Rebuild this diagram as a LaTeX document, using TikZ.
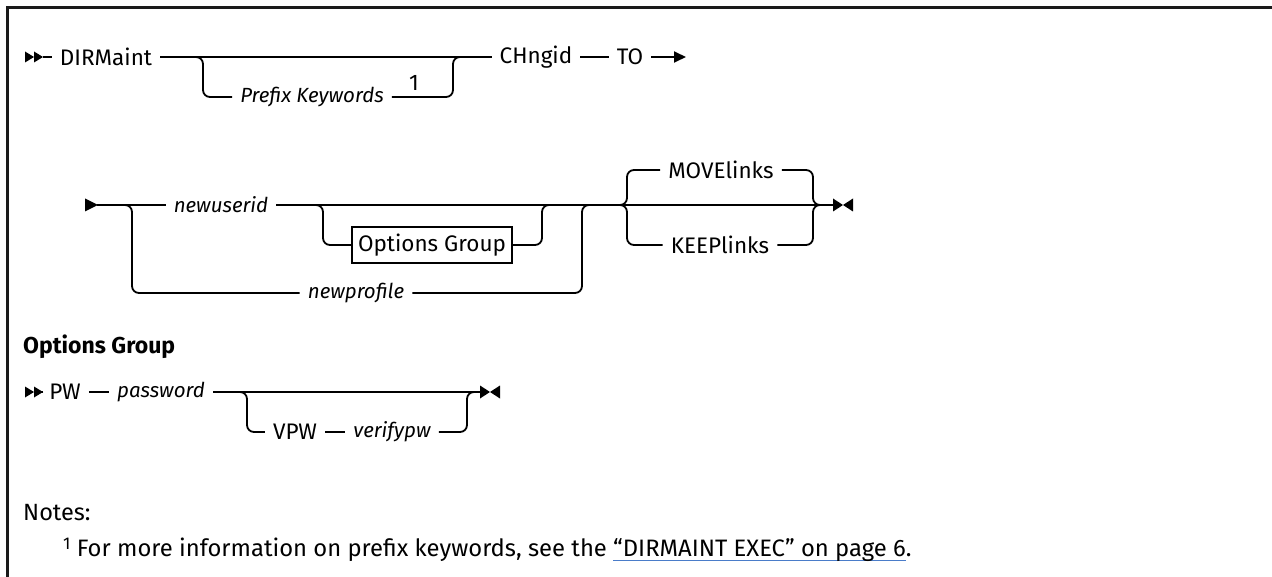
\documentclass[tikz,border=0pt]{standalone}
\usepackage{fontspec}
\setmainfont{Fira Sans}
\usetikzlibrary{arrows.meta}
\definecolor{linkblue}{HTML}{4A7CC9}
\definecolor{framegray}{HTML}{1A1A1A}
\newcommand\linkul[1]{\setbox0\hbox{#1}\rlap{\color{linkblue}\rule[-5pt]{\wd0}{1.2pt}}\box0}
\tikzset{
  lbl/.style={inner xsep=8pt, inner ysep=0pt, font=\fontsize{22.5}{26}\selectfont},
  ilbl/.style={lbl, font=\fontsize{20.5}{26}\selectfont\itshape},
  ln/.style={line width=1.8pt, rounded corners=7pt},
  boxlbl/.style={draw, line width=1.4pt, inner sep=0pt, minimum width=160pt, minimum height=36pt, font=\fontsize{22.5}{26}\selectfont},
  dblstart/.pic={
    \fill (0,-5.5) -- (9,0) -- (0,5.5) -- cycle;
    \fill (9,-5.5) -- (18,0) -- (9,5.5) -- cycle;
  },
  onestart/.pic={
    \fill (0,-6.5) -- (13,0) -- (0,6.5) -- cycle;
  },
  endmark/.pic={
    \fill (0,-6.5) -- (10,0) -- (0,6.5) -- cycle;
    \fill (20,-6.5) -- (10,0) -- (20,6.5) -- cycle;
  }
}
\begin{document}
\begin{tikzpicture}[x=1pt,y=-1pt]
\useasboundingbox (0,0) rectangle (1272,577);
% frame
\draw[framegray, line width=3pt] (7.5,577) -- (7.5,7.5) -- (1272,7.5);

% ---------- row 1 ----------
\pic at (25,57) {dblstart};
\coordinate (s1) at (43,57);
\node[lbl] (dirm) at (106,57) {DIRMaint};
\node[ilbl] (pk) at (312,97) {Prefix Keywords};
\node[inner sep=0pt, font=\fontsize{22.5}{26}\selectfont] (one) at (414,83) {1};
\node[lbl] (chng) at (536,57) {CHngid};
\node[lbl] (to) at (630,57) {TO};
\coordinate (b1) at (203,57);
\coordinate (b2) at (453,57);
\coordinate (a1) at (686,57);
\draw[line width=1.8pt] (s1) -- (dirm.west);
\draw[ln] (dirm.east) -- (chng.west);
\draw[ln] (dirm.east) -| (b1 |- pk) -- (pk.west);
\draw[ln] (pk.east) -| (b2) -- (chng.west);
\draw[ln] (chng.east) -- (to.west);
\draw[line width=1.8pt, -{Triangle[length=12pt,width=11pt]}] (to.east) -- (a1);

% ---------- row 2 ----------
\pic at (85,205) {onestart};
\coordinate (s2) at (97,205);
\node[ilbl] (nu) at (221,205) {newuserid};
\node[ilbl] (np) at (356,293) {newprofile};
\node[boxlbl] (og) at (432,245) {Options Group};
\node[lbl] (mv) at (721,170) {MOVElinks};
\node[lbl] (kp) at (720,245) {KEEPlinks};
\coordinate (j1) at (132,205);
\coordinate (j2) at (323,205);
\coordinate (j3) at (542,205);
\coordinate (j4) at (582,205);
\coordinate (j5) at (627,205);
\coordinate (j6) at (813,205);
\coordinate (e2) at (833,205);
\draw[ln] (s2) -- (nu.west);
\draw[ln] (s2) -| (j1 |- np) -- (np.west);
\draw[ln] (nu.east) -- (e2);
\draw[ln] (nu.east) -| (j2 |- og) -- (og.west);
\draw[ln] (og.east) -| (j3) -- (e2);
\draw[ln] (np.east) -| (j4) -- (e2);
\draw[ln] (nu.east) -| (j5 |- mv) -- (mv.west);
\draw[ln] (nu.east) -| (j5 |- kp) -- (kp.west);
\draw[ln] (mv.east) -| (j6) -- (e2);
\draw[ln] (kp.east) -| (j6) -- (e2);
\pic at (e2) {endmark};

% ---------- options group ----------
\node[anchor=west, inner sep=0pt, font=\fontsize{23}{26}\selectfont\bfseries] (ogh) at (23,347) {Options Group};
\pic at (25,392) {dblstart};
\coordinate (s3) at (43,392);
\node[lbl] (pw) at (65,392) {PW};
\node[ilbl] (pwd) at (161,392) {password};
\node[lbl] (vpw) at (295,432) {VPW};
\node[ilbl] (vp) at (392,432) {verifypw};
\coordinate (j7) at (247,392);
\coordinate (j8) at (467,392);
\coordinate (e3) at (480,392);
\draw[line width=1.8pt] (s3) -- (pw.west);
\draw[ln] (pw.east) -- (pwd.west);
\draw[ln] (pwd.east) -- (e3);
\draw[ln] (pwd.east) -| (j7 |- vpw) -- (vpw.west);
\draw[ln] (vpw.east) -- (vp.west);
\draw[ln] (vp.east) -| (j8) -- (e3);
\pic at (e3) {endmark};

% ---------- notes ----------
\node[anchor=west, inner sep=0pt, font=\fontsize{23.5}{28}\selectfont] (notes) at (23,513) {Notes:};
\node[anchor=base west, inner sep=0pt, font=\fontsize{23.8}{28}\selectfont] (fn) at (63,556) {\raisebox{0.55ex}{\fontsize{17}{17}\selectfont 1} For more information on prefix keywords, see the \linkul{“DIRMAINT EXEC” on page 6}.};
\end{tikzpicture}
\end{document}
